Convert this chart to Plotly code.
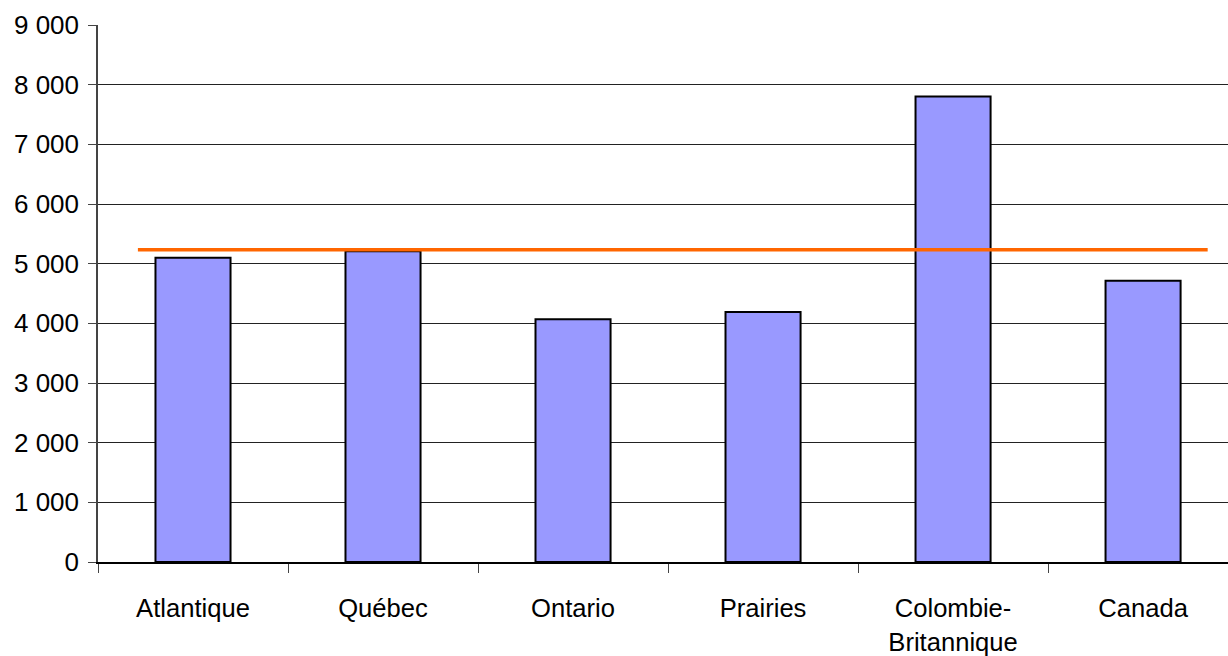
import plotly.graph_objects as go

# Regional values
regions = ["Atlantique", "Québec", "Ontario", "Prairies", "Colombie-<br>Britannique", "Canada"]
values = [5100, 5210, 4070, 4190, 7800, 4715]

# Horizontal reference level
reference_level = 5235

# Y-axis ticks
y_tickvals = [0, 1000, 2000, 3000, 4000, 5000, 6000, 7000, 8000, 9000]
y_ticktext = ["0", "1 000", "2 000", "3 000", "4 000", "5 000", "6 000", "7 000", "8 000", "9 000"]

font_family = "Liberation Sans, Arial, sans-serif"

fig = go.Figure()

fig.add_trace(go.Bar(
    x=regions,
    y=values,
    marker=dict(color="#9999FF", line=dict(color="#000000", width=2)),
    showlegend=False,
    hoverinfo="x+y",
))

# Orange reference line spanning most of the plot width
fig.add_shape(
    type="line",
    xref="x", yref="y",
    x0=-0.29, x1=5.34,
    y0=reference_level, y1=reference_level,
    line=dict(color="#FF6600", width=3.5),
    layer="above",
)

fig.update_layout(
    width=1228,
    height=656,
    autosize=False,
    margin=dict(l=98, r=0, t=25, b=94),
    paper_bgcolor="white",
    plot_bgcolor="white",
    bargap=0.605,
    font=dict(family=font_family, size=26, color="#000000"),
)

fig.update_xaxes(
    type="category",
    range=[-0.5, 5.447],
    tickson="boundaries",
    ticks="outside",
    ticklen=9,
    tickwidth=1,
    tickcolor="#444444",
    showline=True,
    linecolor="#000000",
    linewidth=1.5,
    showgrid=False,
    tickfont=dict(family=font_family, size=25.6, color="#000000"),
    ticklabelstandoff=23,
)

fig.update_yaxes(
    range=[0, 9000],
    tickvals=y_tickvals,
    ticktext=y_ticktext,
    ticks="outside",
    ticklen=8,
    tickwidth=1,
    tickcolor="#444444",
    showline=True,
    linecolor="#444444",
    linewidth=1.5,
    showgrid=True,
    gridcolor="#222222",
    gridwidth=1,
    zeroline=False,
    tickfont=dict(family=font_family, size=26, color="#000000"),
    ticklabelstandoff=4,
)

fig.write_html("out.html")
